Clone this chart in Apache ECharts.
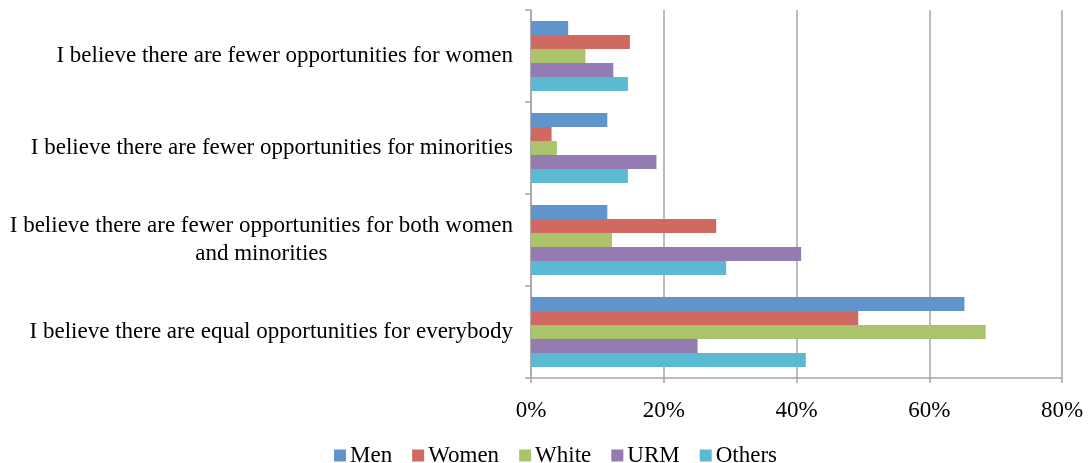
<!DOCTYPE html>
<html>
<head>
<meta charset="utf-8">
<script src="https://cdn.jsdelivr.net/npm/echarts@6/dist/echarts.min.js"></script>
<style>html,body{margin:0;padding:0;background:#fff}#c{width:1088px;height:463px}</style>
</head>
<body>
<div id="c"></div>
<script>
const categories = [
  'I believe there are fewer opportunities for women',
  'I believe there are fewer opportunities for minorities',
  'I believe there are fewer opportunities for both women\nand minorities',
  'I believe there are equal opportunities for everybody'
];
const seriesNames = ['Men', 'Women', 'White', 'URM', 'Others'];
const men    = [5.6, 11.5, 11.5, 65.3];
const women  = [14.9, 3.1, 27.9, 49.3];
const white  = [8.2, 3.9, 12.2, 68.5];
const urm    = [12.4, 18.9, 40.7, 25.1];
const others = [14.6, 14.6, 29.4, 41.4];
const xTicks = [0, 20, 40, 60, 80];
const colors = ['#5f95ca', '#cf6961', '#abc46c', '#947bb2', '#5cb9d2'];

const values = [men, women, white, urm, others];
const font = 'Liberation Serif';
const fs = 23;
const chart = echarts.init(document.getElementById('c'), null, {renderer: 'canvas'});
chart.setOption({
  animation: false,
  textStyle: {fontFamily: font},
  grid: {left: 531, right: 26, top: 10, bottom: 85, containLabel: false},
  legend: {
    top: 439, left: 329,
    itemWidth: 12, itemHeight: 12, itemGap: 20,
    icon: 'rect',
    textStyle: {fontFamily: font, fontSize: fs, color: '#000', padding: [0, 0, 0, -1]},
    data: seriesNames
  },
  xAxis: {
    type: 'value', min: 0, max: 80, interval: 20,
    axisLine: {show: true, lineStyle: {color: '#a6a6a6', width: 1.5}},
    axisTick: {show: true, length: 5, lineStyle: {color: '#a6a6a6', width: 1.5}},
    splitLine: {show: true, lineStyle: {color: '#a6a6a6', width: 1.5}},
    axisLabel: {fontFamily: font, fontSize: fs, color: '#000', margin: 21,
      formatter: v => xTicks.includes(v) ? v + '%' : ''}
  },
  yAxis: {
    type: 'category', inverse: true, data: categories,
    axisLine: {show: true, lineStyle: {color: '#a6a6a6', width: 1.5}},
    axisTick: {show: true, length: 6, lineStyle: {color: '#a6a6a6', width: 1.5}},
    axisLabel: {
      fontFamily: font, fontSize: fs, color: '#000', margin: 18, lineHeight: 28,
      formatter: v => {
        const parts = v.split('\n');
        if (parts.length === 1) return '{a|' + v + '}';
        return parts.map(p => '{c|' + p + '}').join('\n');
      },
      rich: {
        a: {fontFamily: font, fontSize: fs, color: '#000'},
        c: {fontFamily: font, fontSize: fs, color: '#000', align: 'center', lineHeight: 28}
      }
    }
  },
  series: seriesNames.map((n, i) => ({
    name: n, type: 'bar', data: values[i],
    barGap: '0%', barCategoryGap: '24%',
    itemStyle: {color: colors[i]}
  }))
});
</script>
</body>
</html>
